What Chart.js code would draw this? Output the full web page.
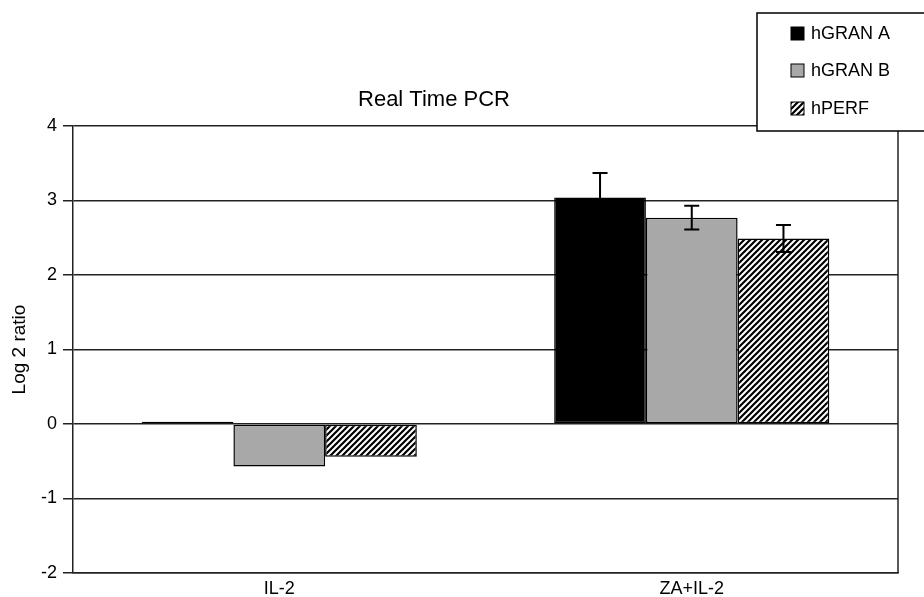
<!DOCTYPE html>
<html>
<head>
<meta charset="utf-8">
<script src="https://cdn.jsdelivr.net/npm/chart.js@4/dist/chart.umd.min.js"></script>
<style>
    html, body { margin: 0; padding: 0; background: #fff; }
    #wrap { width: 924px; height: 597px; position: relative; }
</style>
</head>
<body>
<div id="wrap"><canvas id="chart"></canvas></div>
<script>
const categories = ['IL-2', 'ZA+IL-2'];
const seriesNames = ['hGRAN A', 'hGRAN B', 'hPERF'];
const granA = [0.03, 3.04];
const granB = [-0.57, 2.77];
const perf = [-0.44, 2.49];
// error bar half-widths (null = not drawn)
const errGranA = [null, 0.33];
const errGranB = [null, 0.16];
const errPerf = [null, 0.18];
const yTicks = [-2, -1, 0, 1, 2, 3, 4];

const FONT = '"Liberation Sans", Arial, sans-serif';

function hatchPattern() {
    const size = 6;
    const c = document.createElement('canvas');
    c.width = size;
    c.height = size;
    const g = c.getContext('2d');
    g.fillStyle = '#fff';
    g.fillRect(0, 0, size, size);
    g.strokeStyle = '#000';
    g.lineWidth = 2.2;
    g.beginPath();
    g.moveTo(-1, size + 1); g.lineTo(size + 1, -1);
    g.moveTo(-1, 1); g.lineTo(1, -1);
    g.moveTo(size - 1, size + 1); g.lineTo(size + 1, size - 1);
    g.stroke();
    return g.createPattern(c, 'repeat');
}

const ctx = document.getElementById('chart').getContext('2d');
const hatch = hatchPattern();

const errors = [errGranA, errGranB, errPerf];

const errorBarPlugin = {
    id: 'errorBars',
    afterDatasetsDraw(chart) {
        const c = chart.ctx;
        const y = chart.scales.y;
        c.save();
        c.strokeStyle = '#000';
        c.lineWidth = 2;
        chart.data.datasets.forEach((ds, i) => {
            const meta = chart.getDatasetMeta(i);
            meta.data.forEach((bar, j) => {
                const e = errors[i][j];
                if (e == null) return;
                const v = ds.data[j];
                const top = y.getPixelForValue(v + e);
                const bot = y.getPixelForValue(v - e);
                const cap = 7.5;
                c.beginPath();
                c.moveTo(bar.x, top); c.lineTo(bar.x, bot);
                c.moveTo(bar.x - cap, top); c.lineTo(bar.x + cap, top);
                c.moveTo(bar.x - cap, bot); c.lineTo(bar.x + cap, bot);
                c.stroke();
            });
        });
        c.restore();
    }
};

const framePlugin = {
    id: 'frame',
    afterDraw(chart) {
        const c = chart.ctx;
        const a = chart.chartArea;
        c.save();
        // right border of plot
        c.strokeStyle = '#222';
        c.lineWidth = 1.5;
        c.beginPath();
        c.moveTo(a.right, a.top); c.lineTo(a.right, a.bottom);
        c.stroke();

        // title
        c.fillStyle = '#000';
        c.font = '22px ' + FONT;
        c.textAlign = 'center';
        c.textBaseline = 'middle';
        c.fillText('Real Time PCR', 434, 100);

        // legend box
        const bx = 757, by = 13, bw = 180, bh = 118;
        c.fillStyle = '#fff';
        c.fillRect(bx, by, bw, bh);
        c.strokeStyle = '#000';
        c.lineWidth = 1.5;
        c.strokeRect(bx, by, bw, bh);
        c.font = '18px ' + FONT;
        c.textAlign = 'left';
        const rows = [33, 70, 108];
        chart.data.datasets.forEach((ds, i) => {
            const ry = rows[i];
            c.fillStyle = ds.backgroundColor;
            c.fillRect(791, ry - 6, 13, 13);
            c.lineWidth = 1;
            c.strokeRect(791, ry - 6, 13, 13);
            c.fillStyle = '#000';
            c.fillText(ds.label, 811, ry + 1);
        });
        c.restore();
    }
};

new Chart(ctx, {
    type: 'bar',
    data: {
        labels: categories,
        datasets: [
            { label: seriesNames[0], data: granA, backgroundColor: '#000000' },
            { label: seriesNames[1], data: granB, backgroundColor: '#a8a8a8' },
            { label: seriesNames[2], data: perf, backgroundColor: hatch }
        ].map(ds => Object.assign(ds, {
            borderColor: '#000',
            borderWidth: 1.5,
            borderSkipped: false,
            barPercentage: 1,
            categoryPercentage: 0.667
        }))
    },
    options: {
        responsive: true,
        maintainAspectRatio: false,
        animation: false,
        layout: { padding: { top: 126, right: 26, left: 0, bottom: 0 } },
        plugins: {
            legend: { display: false },
            title: { display: false },
            tooltip: { enabled: false }
        },
        scales: {
            x: {
                grid: { display: false, drawTicks: false },
                border: { display: true, color: '#222', width: 1.5 },
                ticks: { color: '#000', font: { family: FONT, size: 18 }, padding: 5 },
                afterFit(scale) { scale.height = 24; }
            },
            y: {
                min: -2,
                max: 4,
                afterBuildTicks(scale) { scale.ticks = yTicks.map(v => ({ value: v })); },
                grid: { color: '#222', lineWidth: 1.5, tickLength: 10, tickColor: '#222' },
                border: { display: true, color: '#222', width: 1.5 },
                ticks: { color: '#000', font: { family: FONT, size: 18 }, padding: 6 },
                title: {
                    display: true,
                    text: 'Log 2 ratio',
                    color: '#000',
                    font: { family: FONT, size: 19 },
                    padding: { top: 8, bottom: 0 }
                },
                afterFit(scale) { scale.width = 73; }
            }
        }
    },
    plugins: [errorBarPlugin, framePlugin]
});
</script>
</body>
</html>
